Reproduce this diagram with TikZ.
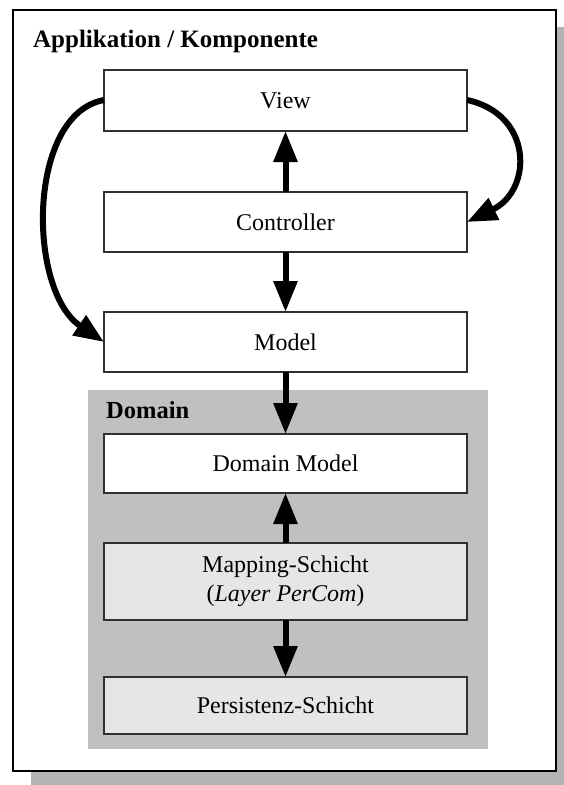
\documentclass[tikz,border=0pt]{standalone}
\usepackage{fontspec}
\setmainfont{Liberation Serif}
\usetikzlibrary{arrows.meta}
\definecolor{shadowgray}{HTML}{B3B3B3}
\definecolor{domaingray}{HTML}{C0C0C0}
\definecolor{layergray}{HTML}{E6E6E6}
\definecolor{edgegray}{HTML}{303030}
\tikzset{
  box/.style={draw=edgegray, line width=1.2pt, fill=white, inner sep=0pt, outer sep=0pt,
    minimum width=363pt, align=center, font=\fontsize{24}{29}\selectfont},
  layerbox/.style={box, fill=layergray},
  flow/.style={line width=6pt, -{Triangle[length=31pt,width=23pt]}},
  loopflow/.style={line width=6pt, -{Triangle[length=30pt,width=23pt]}},
  heading/.style={font=\fontsize{25}{30}\selectfont\bfseries, inner sep=0pt, anchor=base west}
}
\begin{document}
\begin{tikzpicture}[x=1pt,y=-1pt]
  \useasboundingbox (0,0) rectangle (563,785);
  % outer frame with drop shadow
  \fill[shadowgray] (31,27) rectangle (575,800);
  \draw[fill=white, line width=1.5pt] (13,10) rectangle (556,771);
  \node[heading] (apptitle) at (33,47) {Applikation / Komponente};

  % domain area
  \fill[domaingray] (88,390) rectangle (488,749);
  \node[heading, font=\fontsize{24.5}{29}\selectfont\bfseries] (domtitle) at (106,418) {Domain};

  % MVC boxes
  \node[box, minimum height=61pt] (view) at (285.5,100.5) {View};
  \node[box, minimum height=60pt] (ctrl) at (285.5,222) {Controller};
  \node[box, minimum height=60pt] (model) at (285.5,342) {Model};

  % domain layers
  \node[box, minimum height=59pt] (dmodel) at (285.5,463.5) {Domain Model};
  \node[layerbox, minimum height=77pt] (mapping) at (285.5,581.5) {Mapping-Schicht\\(\textit{Layer PerCom})};
  \node[layerbox, minimum height=57pt] (persist) at (285.5,705.5) {Persistenz-Schicht};

  % straight connectors
  \draw[flow] (ctrl.north) -- (view.south);
  \draw[flow] (ctrl.south) -- (model.north);
  \draw[flow] (model.south) -- (dmodel.north);
  \draw[flow] (mapping.north) -- (dmodel.south);
  \draw[flow] (mapping.south) -- (persist.north);

  % curved connectors
  \coordinate (vl) at ([yshift=0.5pt]view.west);
  \coordinate (vr) at ([yshift=0.5pt]view.east);
  \draw[loopflow] (vl) .. controls (27,114) and (27,290) .. (model.west);
  \draw[loopflow] (vr) .. controls (533,114) and (533,190) .. (ctrl.east);
\end{tikzpicture}
\end{document}
